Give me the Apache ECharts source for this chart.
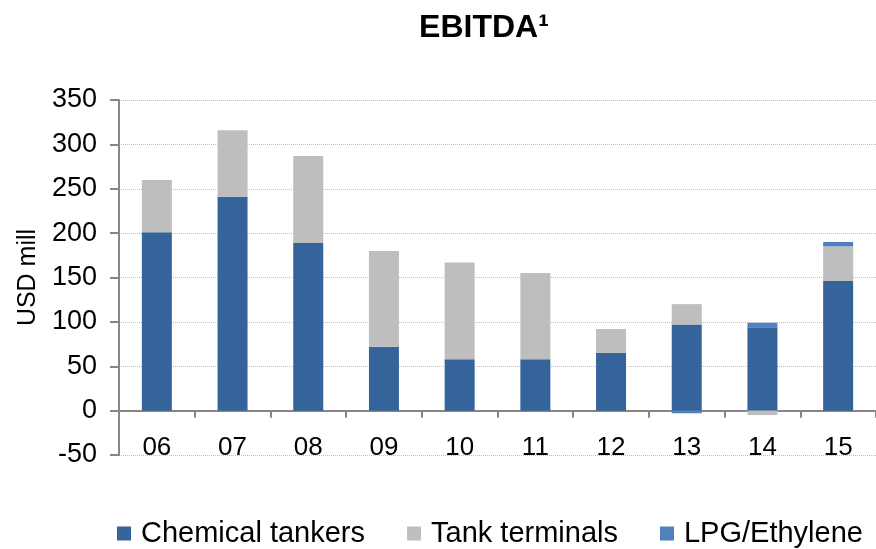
<!DOCTYPE html>
<html>
<head>
<meta charset="utf-8">
<script src="https://cdn.jsdelivr.net/npm/echarts@6/dist/echarts.min.js"></script>
<style>
html,body{margin:0;padding:0;background:#fff;}
#chart{width:876px;height:549px;}
</style>
</head>
<body>
<div id="chart"></div>
<script>
var categories = ['06','07','08','09','10','11','12','13','14','15'];
var chemicalTankers = [201, 241, 189, 72, 58, 58, 65, 97, 94, 146];
var tankTerminals = [59, 75, 98, 108, 109, 97, 27, 23, -5, 39];
var lpgEthylene = [null, null, null, null, null, null, null, -3, 5, 5];
var yTicks = {min: -50, max: 350, interval: 50};

var font = 'Liberation Sans, Arial, sans-serif';
var chart = echarts.init(document.getElementById('chart'));
chart.setOption({
  animation: false,
  backgroundColor: '#fff',
  title: {
    text: 'EBITDA\u00B9',
    left: 479,
    top: 7,
    textAlign: 'center',
    textStyle: {fontFamily: font, fontSize: 32, fontWeight: 'bold', color: '#000'}
  },
  legend: {
    left: 112,
    top: 514,
    icon: 'rect',
    itemWidth: 14,
    itemHeight: 14,
    itemGap: 42,
    textStyle: {fontFamily: font, fontSize: 29, color: '#000', padding: [0,0,0,5]},
    data: ['Chemical tankers', 'Tank terminals', 'LPG/Ethylene']
  },
  grid: {left: 119, right: -14, top: 100, bottom: 94, containLabel: false},
  xAxis: {
    type: 'category',
    data: categories,
    axisLine: {onZero: true, lineStyle: {color: '#868686', width: 2}},
    axisTick: {show: true, length: 7, lineStyle: {color: '#868686', width: 2}},
    axisLabel: {fontFamily: font, fontSize: 26, color: '#000', margin: -20},
    splitLine: {show: false}
  },
  yAxis: {
    type: 'value',
    min: yTicks.min,
    max: yTicks.max,
    interval: yTicks.interval,
    name: 'USD mill',
    nameLocation: 'middle',
    nameGap: 77,
    nameTextStyle: {fontFamily: font, fontSize: 25, color: '#000'},
    axisLine: {show: true, lineStyle: {color: '#868686', width: 2}},
    axisTick: {show: true, length: 9, lineStyle: {color: '#868686', width: 2}},
    axisLabel: {fontFamily: font, fontSize: 27, color: '#000', margin: 22},
    splitLine: {show: true, lineStyle: {color: '#BFBFBF', type: 'dotted', width: 1}}
  },
  series: [
    {name: 'Chemical tankers', type: 'bar', stack: 'total', barWidth: 30, data: chemicalTankers,
     itemStyle: {color: '#35649A'}},
    {name: 'Tank terminals', type: 'bar', stack: 'total', barWidth: 30, data: tankTerminals,
     itemStyle: {color: '#BEBEBE'}},
    {name: 'LPG/Ethylene', type: 'bar', stack: 'total', barWidth: 30, data: lpgEthylene,
     itemStyle: {color: '#4F81BD'}}
  ]
});
</script>
</body>
</html>
